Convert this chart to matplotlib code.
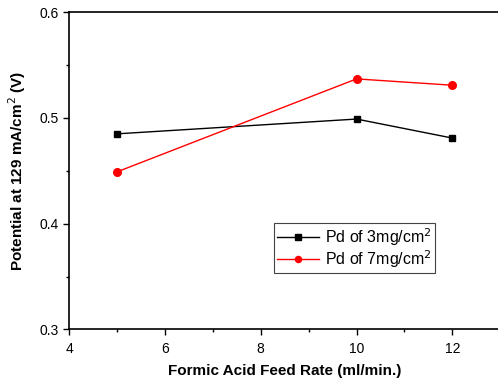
import matplotlib
matplotlib.use("Agg")
import matplotlib.pyplot as plt
from matplotlib.ticker import MultipleLocator

plt.rcParams['font.family'] = ['Liberation Sans', 'DejaVu Sans']

feed_rate = [5, 10, 12]
pd3_potential = [0.485, 0.499, 0.481]
pd7_potential = [0.449, 0.537, 0.531]

fig = plt.figure(figsize=(4.98, 3.79), dpi=100)
ax = fig.add_axes([0.1386, 0.131, 0.866, 0.8365])

ax.plot(feed_rate, pd3_potential, color='black', marker='s', markersize=5,
        linewidth=1, label='Pd of 3mg/cm$^2$')
ax.plot(feed_rate, pd7_potential, color='red', marker='o', markersize=5.5,
        linewidth=1, label='Pd of 7mg/cm$^2$')

ax.set_xlim(4, 13)
ax.set_ylim(0.3, 0.6)
ax.xaxis.set_major_locator(MultipleLocator(2))
ax.xaxis.set_minor_locator(MultipleLocator(1))
ax.yaxis.set_major_locator(MultipleLocator(0.1))
ax.yaxis.set_minor_locator(MultipleLocator(0.05))
ax.tick_params(which='major', direction='out', length=4, width=1, labelsize=10)
ax.tick_params(which='minor', direction='out', length=2.5, width=1)
ax.tick_params(axis='x', pad=5)
for s in ax.spines.values():
    s.set_linewidth(1.2)

ax.set_xlabel('Formic Acid Feed Rate (ml/min.)', fontsize=11, fontweight='bold', labelpad=6)
ax.set_ylabel('Potential at 129 mA/cm$^2$ (V)', fontsize=11, fontweight='bold', labelpad=8)

leg = ax.legend(loc='upper left', bbox_to_anchor=(0.4755, 0.335), borderaxespad=0,
                fontsize=11.5, markerscale=0.8,
                frameon=True, fancybox=False, edgecolor='#444444', framealpha=1,
                handlelength=2.6, handletextpad=0.4, borderpad=0.2, labelspacing=0.0)
leg.get_frame().set_linewidth(0.8)

fig.savefig('out.png', dpi=100)
